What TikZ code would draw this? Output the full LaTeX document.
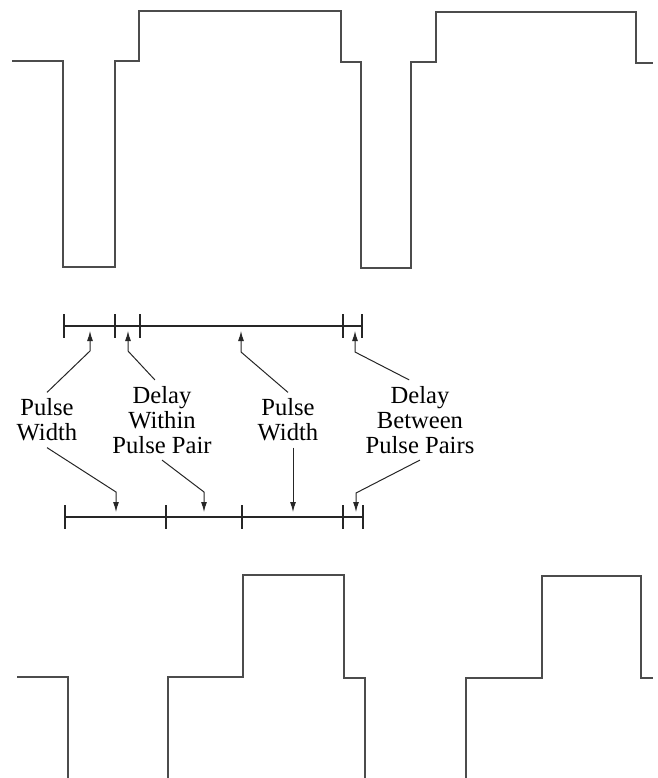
\documentclass[tikz,border=0pt]{standalone}
\usepackage{fontspec}
\setmainfont{Liberation Serif}
\usetikzlibrary{arrows.meta}

\begin{document}
\begin{tikzpicture}[x=0.5pt,y=-0.5pt,>={Latex[length=5pt,width=3pt]},
  wave/.style={line width=1pt,black!70,line join=miter},
  ruler/.style={line width=0.6pt,black!85},
  callout/.style={line width=0.5pt,black!85,->},
  lbl/.style={align=center,font=\fontsize{12.3}{12.5}\selectfont,inner sep=3pt}]
\useasboundingbox (0,0) rectangle (658,778);
% ---------- top pulse train ----------
\draw[wave] (12,61) -- (63,61) -- (63,267) -- (115,267) -- (115,61) -- (139,61)
  -- (139,11) -- (341,11) -- (341,62) -- (361,62) -- (361,268) -- (411,268)
  -- (411,62) -- (436,62) -- (436,12) -- (636,12) -- (636,63) -- (653,63);
% ---------- upper time ruler ----------
\draw[ruler] (64,326) -- (362,326);
\foreach \x in {64,115,140,343,362}
  \draw[ruler] (\x,314) -- (\x,338);
% ---------- lower time ruler ----------
\draw[ruler] (65,517) -- (363,517);
\foreach \x in {65,166,242,343,363}
  \draw[ruler] (\x,505) -- (\x,529);
% ---------- labels ----------
\node[lbl] (pwa) at (47,420) {Pulse\\Width};
\node[lbl] (dwp) at (162,420) {Delay\\Within\\Pulse Pair};
\node[lbl] (pwb) at (288,420) {Pulse\\Width};
\node[lbl] (dbp) at (420,420) {Delay\\Between\\Pulse Pairs};
% arrow ends on the rulers
\coordinate (ta1) at (90,331);  \coordinate (ka1) at (90,351);
\coordinate (ta2) at (128,331); \coordinate (ka2) at (128,351);
\coordinate (ta3) at (241,331); \coordinate (ka3) at (241,352);
\coordinate (ta4) at (355,331); \coordinate (ka4) at (355,352);
\coordinate (tb1) at (116,512); \coordinate (kb1) at (116,492);
\coordinate (tb2) at (204,512); \coordinate (kb2) at (204,492);
\coordinate (tb3) at (293,512);
\coordinate (tb4) at (356,512); \coordinate (kb4) at (356,493);
% ---------- callouts up to the upper ruler ----------
\draw[callout] (pwa.north) -- (ka1) -- (ta1);
\draw[callout] (dwp.100) -- (ka2) -- (ta2);
\draw[callout] (pwb.north) -- (ka3) -- (ta3);
\draw[callout] (dbp.105) -- (ka4) -- (ta4);
% ---------- callouts down to the lower ruler ----------
\draw[callout] (pwa.south) -- (kb1) -- (tb1);
\draw[callout] (dwp.south) -- (kb2) -- (tb2);
\draw[callout] (pwb.south -| tb3) -- (tb3);
\draw[callout] (dbp.south) -- (kb4) -- (tb4);
% ---------- bottom pulse train ----------
\draw[wave] (17,677) -- (68,677) -- (68,778);
\draw[wave] (168,778) -- (168,677) -- (243,677) -- (243,575) -- (344,575)
  -- (344,678) -- (365,678) -- (365,778);
\draw[wave] (466,778) -- (466,678) -- (542,678) -- (542,576) -- (641,576)
  -- (641,678) -- (653,678);
\end{tikzpicture}
\end{document}
